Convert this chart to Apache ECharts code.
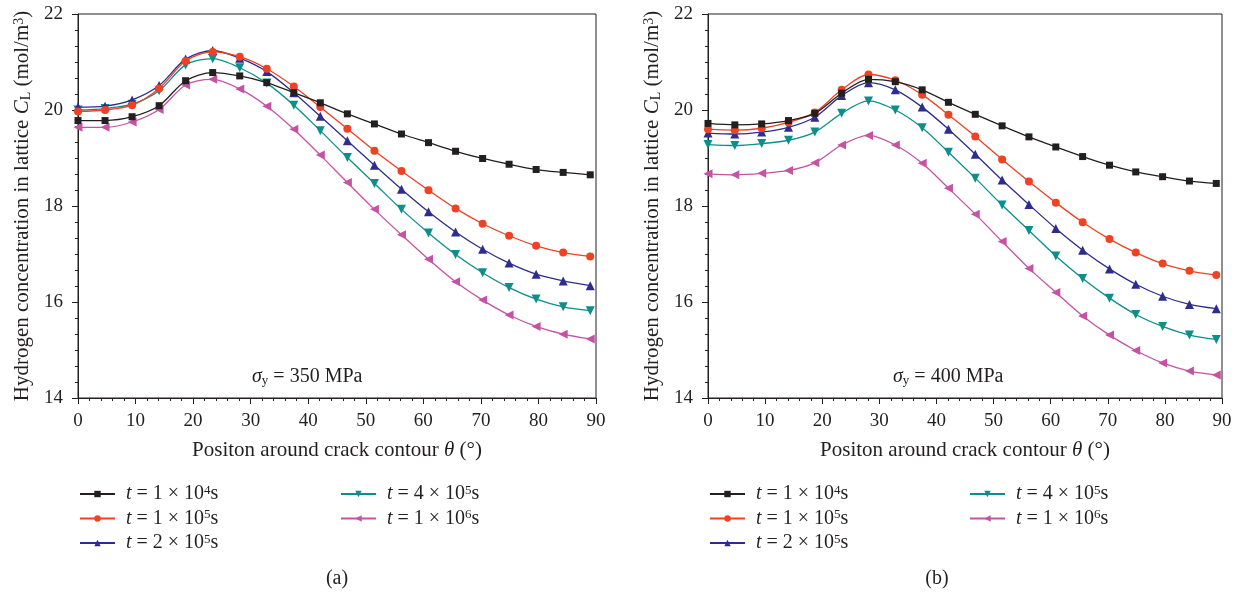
<!DOCTYPE html>
<html>
<head>
<meta charset="utf-8">
<script src="https://cdn.jsdelivr.net/npm/echarts@6/dist/echarts.min.js"></script>
<style>
  html, body { margin: 0; padding: 0; background: #fff; }
  #chart { width: 1240px; height: 599px; }
</style>
</head>
<body>
<div id="chart"></div>
<script>
// 位置角 θ (°)
var theta = [0, 4.7, 9.4, 14.1, 18.7, 23.4, 28.1, 32.8, 37.5, 42.1, 46.8, 51.5, 56.2, 60.9, 65.6, 70.3, 74.9, 79.6, 84.3, 89.0];

// (a) σy = 350 MPa
var a1e4 = [19.78, 19.78, 19.86, 20.09, 20.61, 20.78, 20.71, 20.57, 20.36, 20.15, 19.92, 19.71, 19.50, 19.32, 19.14, 18.99, 18.87, 18.76, 18.70, 18.65];
var a1e5 = [19.97, 20.00, 20.10, 20.45, 21.02, 21.21, 21.11, 20.86, 20.49, 20.06, 19.61, 19.15, 18.73, 18.33, 17.95, 17.63, 17.38, 17.17, 17.03, 16.95];
var a2e5 = [20.06, 20.08, 20.21, 20.51, 21.06, 21.24, 21.08, 20.80, 20.36, 19.87, 19.36, 18.85, 18.35, 17.88, 17.46, 17.10, 16.81, 16.58, 16.44, 16.34];
var a4e5 = [20.00, 20.03, 20.12, 20.40, 20.94, 21.07, 20.88, 20.56, 20.10, 19.57, 19.01, 18.47, 17.93, 17.44, 16.99, 16.61, 16.30, 16.06, 15.90, 15.82];
var a1e6 = [19.64, 19.64, 19.75, 20.01, 20.52, 20.64, 20.44, 20.08, 19.60, 19.06, 18.49, 17.93, 17.40, 16.89, 16.42, 16.04, 15.73, 15.49, 15.33, 15.23];

// (b) σy = 400 MPa
var b1e4 = [19.72, 19.69, 19.71, 19.78, 19.93, 20.35, 20.64, 20.59, 20.42, 20.16, 19.91, 19.67, 19.44, 19.23, 19.03, 18.85, 18.71, 18.61, 18.52, 18.47];
var b1e5 = [19.60, 19.58, 19.62, 19.74, 19.95, 20.42, 20.74, 20.62, 20.32, 19.90, 19.45, 18.97, 18.51, 18.07, 17.66, 17.31, 17.03, 16.80, 16.65, 16.56];
var b2e5 = [19.52, 19.50, 19.54, 19.64, 19.85, 20.30, 20.57, 20.42, 20.06, 19.60, 19.08, 18.54, 18.03, 17.53, 17.08, 16.69, 16.37, 16.12, 15.95, 15.86];
var b4e5 = [19.28, 19.26, 19.30, 19.37, 19.54, 19.93, 20.19, 20.00, 19.63, 19.12, 18.58, 18.02, 17.49, 16.96, 16.49, 16.08, 15.74, 15.49, 15.31, 15.22];
var b1e6 = [18.67, 18.65, 18.68, 18.74, 18.90, 19.27, 19.47, 19.27, 18.89, 18.37, 17.83, 17.26, 16.70, 16.20, 15.71, 15.31, 14.99, 14.73, 14.56, 14.48];

var seriesNames = ['t1e4', 't1e5', 't2e5', 't4e5', 't1e6'];
var legendLabels = {
    t1e4: '{i|t} = 1 × 10{sup|4}s',
    t1e5: '{i|t} = 1 × 10{sup|5}s',
    t2e5: '{i|t} = 2 × 10{sup|5}s',
    t4e5: '{i|t} = 4 × 10{sup|5}s',
    t1e6: '{i|t} = 1 × 10{sup|6}s'
};
var colors = ['#231f20', '#ef4123', '#2e2d8f', '#0a8f8a', '#c652a4'];
var symbols = ['rect', 'circle', 'triangle', 'triangle', 'triangle'];
var symbolRotates = [0, 0, 0, 180, 90];
var symbolSizes = [7, 8, 9, 9, 9];

var FONT = '"Liberation Serif", "DejaVu Serif", serif';
var INK = '#231f20';

function richFor(size) {
    var small = Math.round(size * 0.65);
    return {
        i: { fontStyle: 'italic', fontFamily: FONT, fontSize: size, color: INK },
        sup: { fontSize: small, lineHeight: small - 4, fontFamily: FONT, color: INK, verticalAlign: 'top' },
        sub: { fontSize: small, fontFamily: FONT, color: INK, verticalAlign: 'bottom' }
    };
}

function makeSeries(datasets, gridIdx) {
    return datasets.map(function(vals, k) {
        return {
            name: seriesNames[k],
            type: 'line',
            xAxisIndex: gridIdx,
            yAxisIndex: gridIdx,
            smooth: 0.3,
            data: theta.map(function(t, j) { return [t, vals[j]]; }),
            symbol: symbols[k],
            symbolSize: symbolSizes[k],
            symbolRotate: symbolRotates[k],
            showAllSymbol: true,
            lineStyle: { color: colors[k], width: 1.3 },
            itemStyle: { color: colors[k] },
            z: 10 - k
        };
    });
}

function makeXAxis(gridIdx) {
    return {
        type: 'value',
        gridIndex: gridIdx,
        min: 0, max: 90, interval: 10,
        name: 'Positon around crack contour {i|θ} (°)',
        nameLocation: 'middle',
        nameGap: 42,
        nameTextStyle: { fontFamily: FONT, fontSize: 21, color: INK, rich: richFor(21) },
        axisLine: { onZero: false, lineStyle: { color: INK, width: 1 } },
        axisTick: { inside: false, length: 6, lineStyle: { color: INK } },
        minorTick: { show: true, splitNumber: 5, length: 3, lineStyle: { color: INK } },
        axisLabel: { fontFamily: FONT, fontSize: 19, color: INK, margin: 14 },
        splitLine: { show: false }
    };
}

function makeYAxis(gridIdx) {
    return {
        type: 'value',
        gridIndex: gridIdx,
        min: 14, max: 22, interval: 2,
        name: 'Hydrogen concentration in lattice {i|C}{sub|L} (mol/m{sup|3})',
        nameLocation: 'middle',
        nameGap: 45,
        nameTextStyle: { fontFamily: FONT, fontSize: 21, color: INK, rich: richFor(21) },
        axisLine: { onZero: false, lineStyle: { color: INK, width: 1 } },
        axisTick: { inside: false, length: 6, lineStyle: { color: INK } },
        minorTick: { show: true, splitNumber: 6, length: 3, lineStyle: { color: INK } },
        axisLabel: { fontFamily: FONT, fontSize: 19, color: INK, margin: 15 },
        splitLine: { show: false }
    };
}

function makeLegend(names, left) {
    return {
        data: names,
        orient: 'vertical',
        left: left,
        top: 484,
        padding: 0,
        itemWidth: 35,
        itemHeight: 8,
        itemGap: 4.5,
        formatter: function(name) { return legendLabels[name]; },
        textStyle: { fontFamily: FONT, fontSize: 20, color: INK, lineHeight: 20, padding: [0, 0, 0, 6], rich: richFor(20) }
    };
}

var chart = echarts.init(document.getElementById('chart'), null, { renderer: 'canvas' });

var option = {
    backgroundColor: '#fff',
    animation: false,
    grid: [
        { left: 78, right: 644, top: 14, bottom: 201, show: true, borderColor: INK, borderWidth: 1 },
        { left: 708, right: 18, top: 14, bottom: 201, show: true, borderColor: INK, borderWidth: 1 }
    ],
    xAxis: [makeXAxis(0), makeXAxis(1)],
    yAxis: [makeYAxis(0), makeYAxis(1)],
    legend: [
        makeLegend(['t1e4', 't1e5', 't2e5'], 79),
        makeLegend(['t4e5', 't1e6'], 340),
        makeLegend(['t1e4', 't1e5', 't2e5'], 709),
        makeLegend(['t4e5', 't1e6'], 969)
    ],
    title: [
        { text: '(a)', left: 337, top: 569, padding: 0, textAlign: 'center', textStyle: { fontFamily: FONT, fontSize: 20, fontWeight: 'normal', color: INK } },
        { text: '(b)', left: 937, top: 569, padding: 0, textAlign: 'center', textStyle: { fontFamily: FONT, fontSize: 20, fontWeight: 'normal', color: INK } }
    ],
    graphic: [
        {
            type: 'text', left: 252, top: 367, z: 100,
            style: { text: '{i|σ}{sub|y} = 350 MPa', font: '20px ' + FONT, fill: INK, rich: richFor(20) }
        },
        {
            type: 'text', left: 893, top: 367, z: 100,
            style: { text: '{i|σ}{sub|y} = 400 MPa', font: '20px ' + FONT, fill: INK, rich: richFor(20) }
        }
    ],
    series: makeSeries([a1e4, a1e5, a2e5, a4e5, a1e6], 0).concat(makeSeries([b1e4, b1e5, b2e5, b4e5, b1e6], 1))
};

chart.setOption(option);

window.addEventListener('resize', function() {
    chart.resize();
});
</script>
</body>
</html>
